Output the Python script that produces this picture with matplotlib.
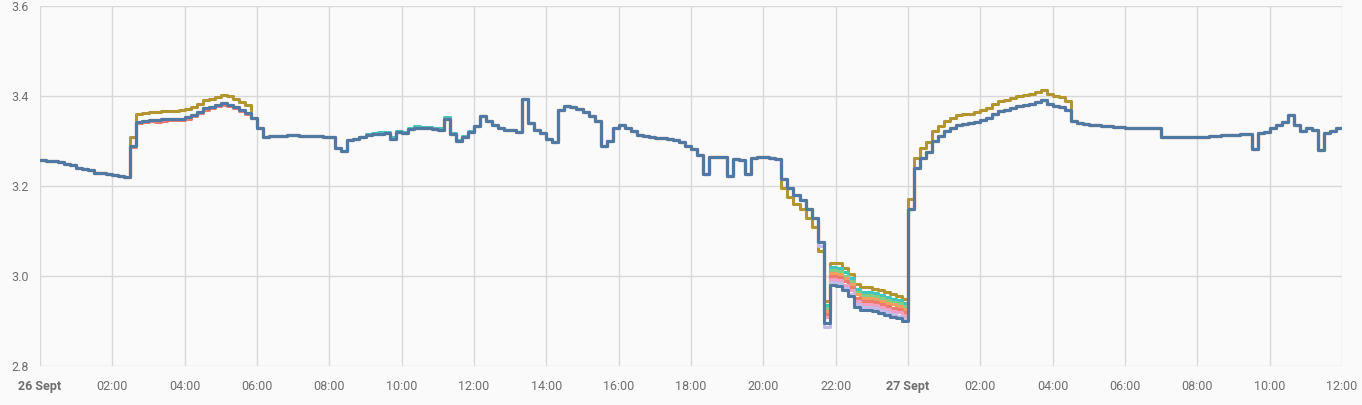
import numpy as np
import matplotlib
matplotlib.use("Agg")
import matplotlib.pyplot as plt

# Base trace (volts), one value every 10 minutes from 26 Sept 00:00 to 27 Sept 12:00
base = [
    3.258, 3.256, 3.255, 3.253, 3.250, 3.246,   # 00h
    3.240, 3.238, 3.235, 3.229, 3.228, 3.226,   # 01h
    3.224, 3.222, 3.221, 3.290, 3.343, 3.345,   # 02h
    3.347, 3.346, 3.348, 3.349, 3.349, 3.350,   # 03h
    3.353, 3.358, 3.365, 3.373, 3.376, 3.380,   # 04h
    3.384, 3.381, 3.376, 3.369, 3.362, 3.352,   # 05h
    3.329, 3.310, 3.311, 3.311, 3.312, 3.313,   # 06h
    3.313, 3.312, 3.312, 3.311, 3.311, 3.310,   # 07h
    3.309, 3.285, 3.278, 3.302, 3.305, 3.310,   # 08h
    3.313, 3.315, 3.316, 3.318, 3.305, 3.319,   # 09h
    3.318, 3.326, 3.330, 3.329, 3.328, 3.326,   # 10h
    3.325, 3.350, 3.315, 3.300, 3.308, 3.320,   # 11h
    3.333, 3.356, 3.345, 3.336, 3.330, 3.325,   # 12h
    3.325, 3.320, 3.393, 3.340, 3.325, 3.318,   # 13h
    3.305, 3.298, 3.370, 3.378, 3.375, 3.372,   # 14h
    3.364, 3.355, 3.345, 3.290, 3.300, 3.330,   # 15h
    3.336, 3.330, 3.322, 3.313, 3.312, 3.310,   # 16h
    3.307, 3.306, 3.305, 3.302, 3.298, 3.290,   # 17h
    3.282, 3.270, 3.226, 3.264, 3.265, 3.265,   # 18h
    3.222, 3.260, 3.258, 3.226, 3.262, 3.264,   # 19h
    3.264, 3.262, 3.260, 3.215, 3.195, 3.180,   # 20h
    3.169, 3.150, 3.130, 3.075, 2.895, 2.980,   # 21h
    2.978, 2.968, 2.955, 2.932, 2.925, 2.925,   # 22h
    2.922, 2.918, 2.914, 2.910, 2.906, 2.900,   # 23h
    3.150, 3.240, 3.262, 3.275, 3.300, 3.312,   # 27 Sept 00h
    3.322, 3.330, 3.336, 3.337, 3.339, 3.342,   # 01h
    3.347, 3.352, 3.360, 3.367, 3.370, 3.373,   # 02h
    3.378, 3.380, 3.383, 3.386, 3.391, 3.383,   # 03h
    3.378, 3.375, 3.368, 3.345, 3.340, 3.338,   # 04h
    3.336, 3.335, 3.334, 3.333, 3.332, 3.331,   # 05h
    3.330, 3.330, 3.329, 3.329, 3.329, 3.328,   # 06h
    3.310, 3.310, 3.308, 3.309, 3.310, 3.310,   # 07h
    3.309, 3.310, 3.311, 3.312, 3.313, 3.313,   # 08h
    3.314, 3.315, 3.316, 3.282, 3.318, 3.320,   # 09h
    3.329, 3.335, 3.342, 3.358, 3.335, 3.322,   # 10h
    3.328, 3.325, 3.280, 3.318, 3.322, 3.328,   # 11h
    3.330,
]

# Per-cell deviation from the base trace: (from hour, to hour, offset)
cells = {
    'cell 1': ('#b39530', [(2.5, 5.8, 0.018), (20.5, 21.6, -0.02), (21.6, 24.0, 0.050), (24.0, 28.4, 0.022)]),
    'cell 2': ('#3fc6bd', [(9.0, 12.0, 0.003), (21.6, 24.0, 0.040)]),
    'cell 3': ('#82cf84', [(21.6, 24.0, 0.033)]),
    'cell 4': ('#f2a060', [(21.6, 24.0, 0.027)]),
    'cell 5': ('#ef7a6c', [(2.5, 5.8, -0.003), (21.6, 24.0, 0.020)]),
    'cell 6': ('#f0a0c2', [(21.6, 24.0, 0.013)]),
    'cell 7': ('#c3bbe6', [(21.5, 21.7, -0.008), (21.7, 24.0, 0.006)]),
    'cell 8': ('#4f78a2', []),
}

tick_hours = list(range(0, 37, 2))
tick_labels = ['26 Sept', '02:00', '04:00', '06:00', '08:00', '10:00', '12:00', '14:00', '16:00',
               '18:00', '20:00', '22:00', '27 Sept', '02:00', '04:00', '06:00', '08:00', '10:00', '12:00']

hours = np.arange(len(base)) / 6.0
base = np.array(base)

plt.rcParams['font.family'] = ['Roboto', 'DejaVu Sans']
fig = plt.figure(figsize=(13.62, 4.05), dpi=100, facecolor='#fafafa')
ax = fig.add_axes([40 / 1362, 1 - 366 / 405, 1302 / 1362, 360 / 405])
ax.set_facecolor('#fafafa')

for name, (color, segs) in cells.items():
    v = base.copy()
    for start, end, off in segs:
        v[(hours >= start) & (hours < end)] += off
    ax.plot(hours, v, drawstyle='steps-post', color=color, linewidth=2.2, label=name)

ax.set_xlim(0, 36)
ax.set_ylim(2.8, 3.6)
ax.set_yticks([2.8, 3.0, 3.2, 3.4, 3.6])
ax.set_yticklabels(['2.8', '3.0', '3.2', '3.4', '3.6'])
ax.set_xticks(tick_hours)
ax.set_xticklabels(tick_labels)
for lbl in ax.get_xticklabels():
    if 'Sept' in lbl.get_text():
        lbl.set_fontweight('bold')

ax.tick_params(length=0, labelsize=9, colors='#6e6e6e', pad=8)
ax.tick_params(axis='x', pad=10)
for s in ax.spines.values():
    s.set_visible(False)
ax.grid(True, color='#d8d8d8', linewidth=1)
ax.set_axisbelow(True)

fig.savefig('out.png', dpi=100, facecolor='#fafafa')
